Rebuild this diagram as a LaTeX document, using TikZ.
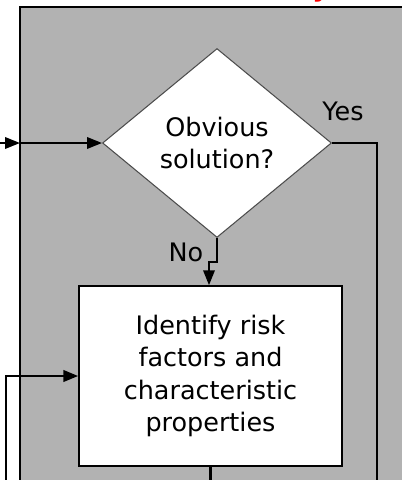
\documentclass[tikz,border=0pt]{standalone}
\usepackage{fontspec}
\setmainfont{DejaVu Sans}
\usetikzlibrary{arrows.meta,positioning,shapes.geometric}

\begin{document}
\begin{tikzpicture}[x=0.02cm,y=-0.02cm,>={Triangle[length=8.5pt,width=6.5pt]},
  font=\fontsize{14.5}{18.5}\selectfont,
  decision/.style={diamond,draw=black!70,fill=white,line width=0.6pt,inner sep=0pt,
    minimum width=4.58cm,minimum height=3.78cm,align=center},
  process/.style={rectangle,draw,fill=white,line width=0.9pt,
    minimum width=5.26cm,minimum height=3.6cm,align=center},
  flow/.style={line width=1.2pt}]
  \useasboundingbox (0,0) rectangle (402,480);

  % Panel
  \draw[fill=black!30,line width=1.2pt] (20,7) rectangle (420,500);
  \node[red,font=\fontsize{15}{18}\selectfont\bfseries,anchor=base] (title) at (321,-4) {y};

  % Shapes
  \node[decision] (dec) at (217,143) {Obvious\\solution?};
  \node[process] (box) at (210.5,376) {Identify risk\\factors and\\characteristic\\properties};

  % Labels
  \node (yes) at (343,111) {Yes};
  \node (no) at (186,252) {No};

  % Free ends
  \coordinate (in) at (0,143);
  \coordinate (edge) at (20,143);
  \coordinate (jog) at (209,262);
  \coordinate (yesend) at (377,480);
  \coordinate (loop) at (6,480);

  % Connectors
  \draw[flow,->] (in) -- (edge);
  \draw[flow,->] (edge) -- (dec.west);
  \draw[flow] (dec.east) -| (yesend);
  \draw[flow,->] (dec.south) |- (jog) -- (jog |- box.north);
  \draw[flow] (box.south) -- (box.south |- yesend);
  \draw[flow,->,line width=1.6pt] (loop) |- (box.west);
\end{tikzpicture}
\end{document}
